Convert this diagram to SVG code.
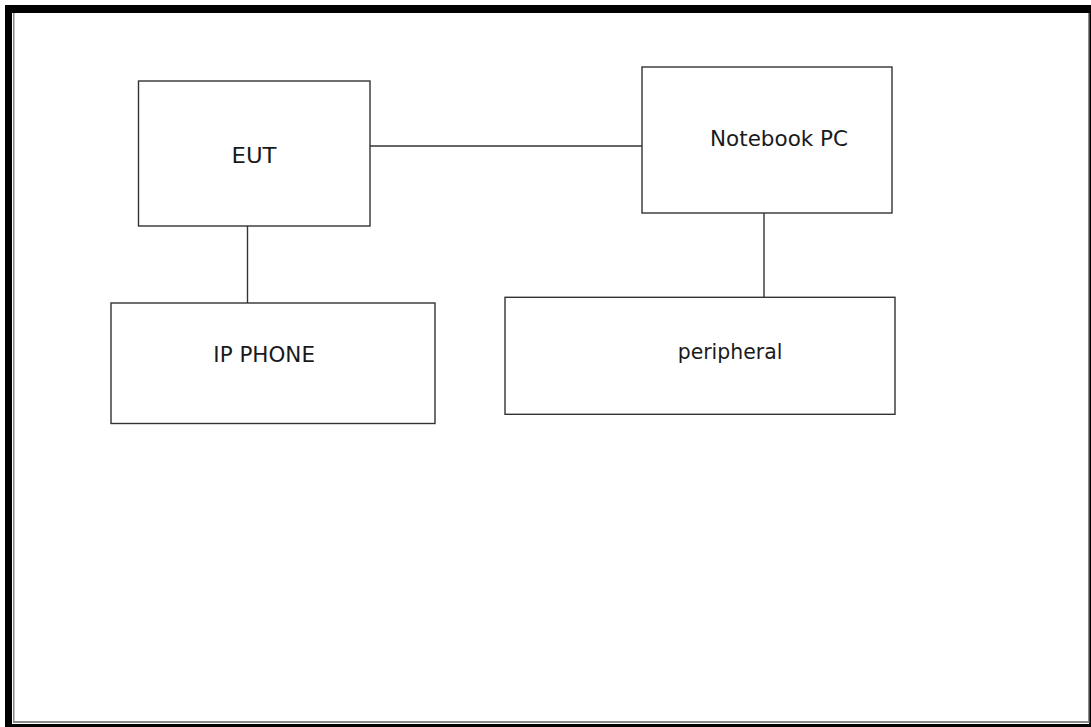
<svg xmlns="http://www.w3.org/2000/svg" width="1091" height="727" viewBox="0 0 1091 727">
  <style>
    .box { fill: #ffffff; stroke: #333333; stroke-width: 1.4; }
    .conn { stroke: #333333; stroke-width: 1.4; fill: none; }
    .lbl { font-family: "DejaVu Sans", sans-serif; font-size: 21.5px; fill: #1a1a1a; }
  </style>
  <rect x="0" y="0" width="1091" height="727" fill="#ffffff"/>
  <g id="frame">
    <rect x="5" y="5" width="1090" height="726" fill="#000000"/>
    <rect x="12" y="13" width="1077" height="711" fill="#ffffff"/>
    <rect x="13" y="13" width="1.5" height="710" fill="#8a8a8a"/>
    <rect x="13" y="721" width="1076" height="2" fill="#8a8a8a"/>
    <rect x="1088" y="13" width="1.5" height="710" fill="#8a8a8a"/>
  </g>
  <g id="connectors">
    <line class="conn" x1="370" y1="146" x2="643" y2="146"/>
    <line class="conn" x1="247.5" y1="226" x2="247.5" y2="303"/>
    <line class="conn" x1="764" y1="213" x2="764" y2="297"/>
  </g>
  <g id="eut">
    <rect class="box" x="138.5" y="81" width="231.5" height="145"/>
    <text class="lbl" x="231.5" y="162.7" textLength="45" lengthAdjust="spacingAndGlyphs">EUT</text>
  </g>
  <g id="notebook">
    <rect class="box" x="642" y="67" width="250" height="146"/>
    <text class="lbl" x="710" y="145.7" textLength="138" lengthAdjust="spacingAndGlyphs">Notebook PC</text>
  </g>
  <g id="ipphone">
    <rect class="box" x="111" y="303" width="324" height="120.5"/>
    <text class="lbl" x="213.3" y="362.3" textLength="101.7" lengthAdjust="spacingAndGlyphs">IP PHONE</text>
  </g>
  <g id="peripheral">
    <rect class="box" x="505" y="297.3" width="390" height="117"/>
    <text class="lbl" x="677.7" y="359" textLength="104.7" lengthAdjust="spacingAndGlyphs">peripheral</text>
  </g>
</svg>
